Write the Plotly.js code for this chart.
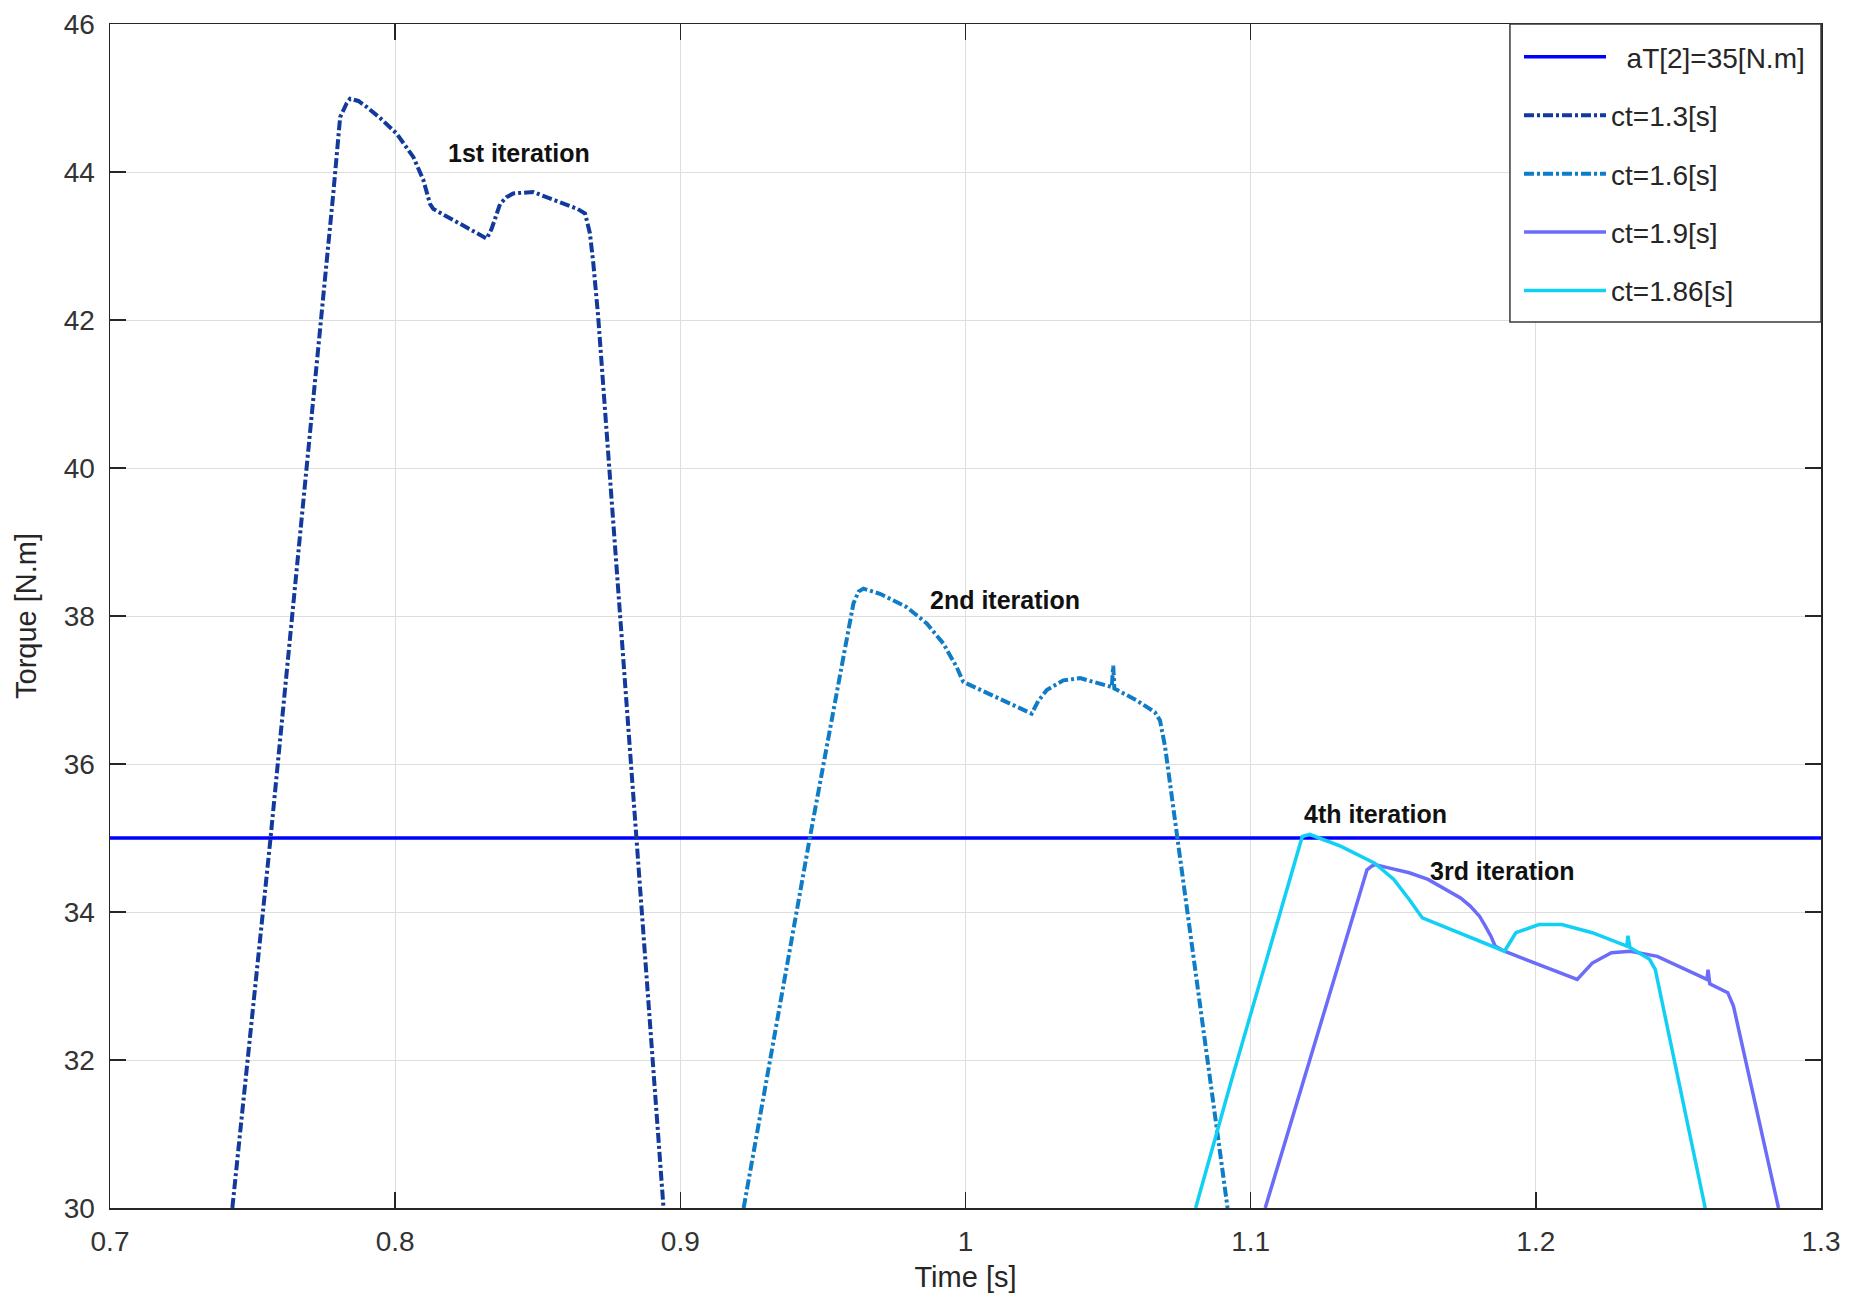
<!DOCTYPE html>
<html>
<head>
<meta charset="utf-8">
<script src="https://cdn.plot.ly/plotly-3.0.1.min.js"></script>
<style>
  html, body { margin: 0; padding: 0; background: #ffffff; }
  #chart { width: 1850px; height: 1303px; }
</style>
</head>
<body>
<div id="chart"></div>
<script>
// ---- Data ----
const seriesNames = ["\u00a0\u00a0aT[2]=35[N.m]", "ct=1.3[s]", "ct=1.6[s]", "ct=1.9[s]", "ct=1.86[s]"];

// reference torque
const refTime = [0.7, 1.3];
const refTorque = [35, 35];

// ct = 1.3 s (1st iteration)
const time13 = [0.7429, 0.7563, 0.7783, 0.7807, 0.7830, 0.7842, 0.7871, 0.7900, 0.7950, 0.8005, 0.8064, 0.8099, 0.8122, 0.8134,
                0.8321, 0.8338, 0.8368, 0.8391, 0.8414, 0.8484, 0.8578, 0.8640, 0.8666, 0.8683, 0.8695, 0.8712, 0.8846, 0.8941];
const torque13 = [30, 35, 43.71, 44.74, 44.93, 44.99, 44.96, 44.88, 44.72, 44.52, 44.20, 43.89, 43.57, 43.50,
                  43.10, 43.23, 43.57, 43.66, 43.71, 43.73, 43.59, 43.50, 43.44, 43.17, 42.76, 42.04, 35.0, 30];

// ct = 1.6 s (2nd iteration)
const time16 = [0.9222, 0.9454, 0.9560, 0.9607, 0.9625, 0.9642, 0.9700, 0.9794, 0.9864, 0.9922, 0.9969, 0.9992,
                1.0232, 1.0255, 1.0285, 1.0343, 1.0402, 1.0472, 1.0513, 1.0518, 1.0522, 1.0600, 1.0664, 1.0682, 1.0700, 1.0743, 1.0919];
const torque16 = [30, 35, 37.2, 38.17, 38.33, 38.37, 38.30, 38.12, 37.90, 37.63, 37.31, 37.11,
                  36.68, 36.85, 37.00, 37.13, 37.16, 37.09, 37.04, 37.33, 37.02, 36.86, 36.70, 36.59, 36.23, 35.0, 30];

// ct = 1.9 s (3rd iteration)
const time19 = [1.1051, 1.1187, 1.1408, 1.1425, 1.1436, 1.1480, 1.1556, 1.1622, 1.1689, 1.1736, 1.1770, 1.1803, 1.1823, 1.1843, 1.1857, 1.1890,
                1.2145, 1.2170, 1.2198, 1.2265, 1.2332, 1.2426, 1.2519, 1.2600, 1.2604, 1.2610, 1.2673, 1.2693, 1.2851];
const torque19 = [30, 31.73, 34.57, 34.62, 34.64, 34.60, 34.53, 34.44, 34.30, 34.19, 34.08, 33.94, 33.81, 33.67, 33.54, 33.47,
                  33.09, 33.20, 33.31, 33.45, 33.47, 33.40, 33.24, 33.09, 33.22, 33.03, 32.91, 32.73, 30];

// ct = 1.86 s (4th iteration)
const time186 = [1.0807, 1.0933, 1.1181, 1.1207, 1.1240, 1.1315, 1.1435, 1.1502, 1.1556, 1.1602, 1.1890, 1.1910,
                 1.1930, 1.2011, 1.2091, 1.2198, 1.2319, 1.2323, 1.2330, 1.2399, 1.2419, 1.2506, 1.2594];
const torque186 = [30, 31.73, 35.02, 35.05, 35.00, 34.89, 34.66, 34.44, 34.17, 33.92, 33.47, 33.60,
                   33.72, 33.83, 33.83, 33.72, 33.54, 33.68, 33.52, 33.36, 33.22, 31.62, 30];

// annotations
const noteText = ["1st iteration", "2nd iteration", "4th iteration", "3rd iteration"];
const noteTime = [0.8434, 1.0140, 1.1436, 1.1883];
const noteTorque = [44.26, 38.22, 35.32, 34.56];

// axes
const xTickVals = [0.7, 0.8, 0.9, 1.0, 1.1, 1.2, 1.3];
const xTickText = ["0.7", "0.8", "0.9", "1", "1.1", "1.2", "1.3"];
const yTickVals = [30, 32, 34, 36, 38, 40, 42, 44, 46];
const yTickText = ["30", "32", "34", "36", "38", "40", "42", "44", "46"];

// ---- Styles ----
const FONT = "'Liberation Sans', Arial, Helvetica, sans-serif";
const dashDot = "10px,3px,3px,3px";
const LW = 3.5;
const LWD = 4;

const traces = [
  { x: refTime, y: refTorque, name: seriesNames[0], legendgroup: "g0",
    mode: "lines", line: { color: "#0000ff", width: LW } },
  { x: time13, y: torque13, name: seriesNames[1], legendgroup: "g1",
    mode: "lines", line: { color: "#12399c", width: LWD, dash: dashDot } },
  { x: time16, y: torque16, name: seriesNames[2], legendgroup: "g2",
    mode: "lines", line: { color: "#0f7cc8", width: LWD, dash: dashDot } },
  { x: time19, y: torque19, name: seriesNames[3], legendgroup: "g3",
    mode: "lines", line: { color: "#6c6cfa", width: LW } },
  { x: time186, y: torque186, name: seriesNames[4], legendgroup: "g4",
    mode: "lines", line: { color: "#12d0f4", width: LW } }
];

const annotations = noteText.map((t, i) => ({
  x: noteTime[i], y: noteTorque[i], xref: "x", yref: "y",
  text: "<b>" + t + "</b>", showarrow: false,
  font: { family: FONT, size: 25, color: "#111111" },
  xanchor: "center", yanchor: "middle"
}));

const axisCommon = {
  showline: true, linecolor: "#262626", linewidth: 1.5, mirror: "ticks",
  ticks: "inside", ticklen: 16, tickwidth: 1.5, tickcolor: "#262626",
  showgrid: true, gridcolor: "#dedede", gridwidth: 1,
  zeroline: false, tickfont: { family: FONT, size: 28, color: "#333333" },
  automargin: false
};

const layout = {
  width: 1850, height: 1303,
  margin: { l: 110, r: 29, t: 24, b: 95, pad: 0 },
  paper_bgcolor: "#ffffff", plot_bgcolor: "#ffffff",
  showlegend: true,
  font: { family: FONT, color: "#262626" },
  xaxis: Object.assign({}, axisCommon, {
    range: [0.7, 1.3], tickmode: "array", tickvals: xTickVals, ticktext: xTickText,
    ticklabelstandoff: 8,
    title: { text: "Time [s]", font: { family: FONT, size: 29, color: "#262626" }, standoff: 10 }
  }),
  yaxis: Object.assign({}, axisCommon, {
    range: [30, 46], tickmode: "array", tickvals: yTickVals, ticktext: yTickText,
    ticklabelstandoff: 8,
    title: { text: "Torque [N.m]", font: { family: FONT, size: 29, color: "#262626" }, standoff: 18 }
  }),
  // legend frame (white box with border) behind the legend entries
  shapes: [{
    type: "rect", xref: "paper", yref: "paper",
    x0: 0.8182, x1: 1.0, y0: 0.7483, y1: 1.0,
    fillcolor: "#ffffff", line: { color: "#3a3a3a", width: 1.5 }, layer: "above"
  }],
  legend: {
    x: 0.8235, xanchor: "left", y: 0.9931, yanchor: "top",
    bgcolor: "rgba(0,0,0,0)", borderwidth: 0,
    font: { family: FONT, size: 28, color: "#262626" },
    itemwidth: 82, traceorder: "grouped", tracegroupgap: 19,
    itemclick: false, itemdoubleclick: false
  },
  annotations: annotations
};

Plotly.newPlot("chart", traces, layout, { staticPlot: true, displayModeBar: false });
</script>
</body>
</html>
